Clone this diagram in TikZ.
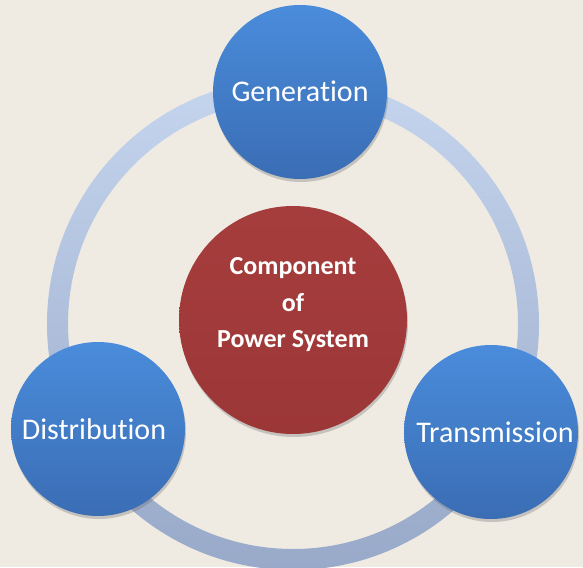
\documentclass[tikz,border=0pt]{standalone}
\usepackage{fontspec}
\setmainfont{Carlito}[Ligatures={NoCommon}]
\usetikzlibrary{shadows}
\definecolor{bg}{HTML}{EFEBE3}
\definecolor{bluetop}{HTML}{4A8CDB}
\definecolor{bluebot}{HTML}{3A6DB4}
\definecolor{redtop}{HTML}{A63D3D}
\definecolor{redbot}{HTML}{9C3737}
\definecolor{ringtop}{HTML}{C5D5EE}
\definecolor{ringbot}{HTML}{98A9C9}
\tikzset{
  ball/.style={circle, draw=none, inner sep=0pt, minimum size=174pt,
    top color=bluetop, bottom color=bluebot, text=white,
    font=\fontsize{30}{32}\selectfont,
    drop shadow={shadow xshift=1pt, shadow yshift=-3pt, opacity=0.3, fill=black!60}},
  hub/.style={circle, draw=none, inner sep=0pt, minimum size=228pt,
    top color=redtop, bottom color=redbot,
    drop shadow={shadow xshift=1pt, shadow yshift=-3pt, opacity=0.3, fill=black!60}},
  hubtext/.style={text=white, align=center, inner sep=0pt,
    font=\bfseries\fontsize{26}{36.5}\selectfont}
}
\begin{document}
\begin{tikzpicture}[x=1pt,y=-1pt]
  \fill[bg] (0,0) rectangle (583,567);
  \useasboundingbox (0,0) rectangle (583,567);
  \coordinate (ringc) at (293,324);
  \shade[even odd rule, top color=ringtop, bottom color=ringbot]
    (ringc) circle[radius=246pt] (ringc) circle[radius=225pt];
  \node[hub] (hubc) at (293,320) {};
  \node[hubtext] (hubt) at ([yshift=15pt]hubc.center) {Component\\of\\Power System};
  \node[ball] (gen) at (300,92) {\raisebox{2pt}{Generation}};
  \node[ball] (dist) at (98,429) {Distribution\kern8pt};
  \node[ball] (trans) at (491,432) {\kern8pt Transmission};
\end{tikzpicture}
\end{document}
